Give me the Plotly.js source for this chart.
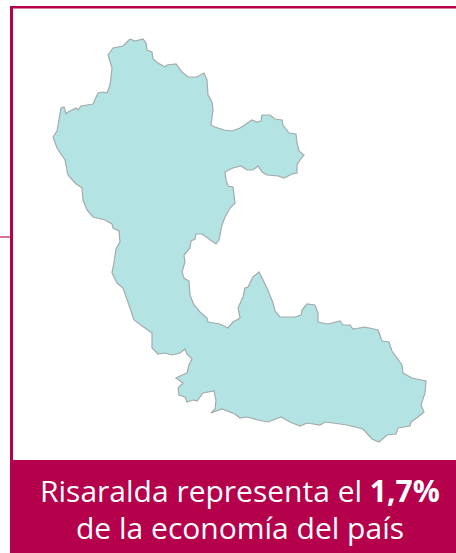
<!DOCTYPE html>
<html><head><meta charset="utf-8">
<script src="https://cdn.plot.ly/plotly-3.0.1.min.js"></script>
<style>html,body{margin:0;padding:0;background:#fff}#c{width:456px;height:553px}</style></head>
<body><div id="c"></div>
<script>
const regionName = "Risaralda";
const boundaryX = [130,135,143,146,147,152,153,158,165,167,176,182,188,197,204,207,208,212,213,211,215,220,224,232,240,246,252,257,261,262,266,270,275,282,283,289,296,297,299,304,300,297,297,292,284,278,267,262,258,253,247,241,233,225,226,228,233,234,235,230,225,222,219,216,208,202,196,195,191,190,184,185,182,184,189,190,194,200,207,208,220,228,233,240,238,243,245,248,253,259,267,273,275,280,295,301,302,307,315,318,318,328,340,343,350,353,365,378,382,389,392,397,402,403,412,426,425,421,424,418,411,410,398,396,387,379,372,363,347,333,325,320,307,300,290,281,275,268,258,247,240,235,222,211,215,216,214,203,197,193,187,185,179,178,183,180,176,182,187,189,192,187,185,180,172,165,158,152,152,145,134,130,126,123,117,112,114,116,120,119,113,112,105,93,87,83,82,75,68,65,57,53,57,59,61,64,66,68,76,78,81,93,98,103,107,110,112,108,113,123,130];
const boundaryY = [39,41,39,43,50,52,59,63,67,65,64,72,77,77,73,80,95,102,110,125,127,129,130,131,128,124,120,122,121,115,115,115,119,120,125,133,134,143,151,155,160,165,173,174,178,176,175,172,166,170,170,166,168,172,180,186,187,197,203,208,217,225,240,244,238,234,234,239,241,248,255,262,272,278,281,295,305,312,318,322,324,328,322,318,308,297,288,287,277,272,288,303,311,317,317,315,310,304,305,313,322,324,321,325,325,329,327,330,341,342,351,358,365,373,378,381,393,405,412,417,422,426,428,434,435,442,439,429,425,423,422,425,423,426,422,417,419,422,420,417,418,414,409,413,409,400,391,393,401,400,402,397,395,388,383,381,378,375,373,365,359,354,349,353,355,353,354,348,333,328,320,308,297,288,283,273,262,249,242,231,228,224,220,217,210,200,188,183,175,160,148,137,131,118,108,107,114,112,108,110,106,104,93,92,93,85,68,55,48,46,39];
const captionLines = ["Risaralda representa el <b>1,7%</b>", "de la economía del país"];

const crimson = "#b5004b";
Plotly.newPlot("c", [{
  type: "scatter", mode: "lines", x: boundaryX, y: boundaryY, fill: "toself",
  fillcolor: "#b3e3e3", line: {color: "#a3abab", width: 1.2}, hoverinfo: "skip", name: regionName
}], {
  width: 456, height: 553, margin: {l:0,r:0,t:0,b:0}, showlegend: false,
  paper_bgcolor: "#fff", plot_bgcolor: "#fff",
  xaxis: {range:[0,456], visible:false, fixedrange:true},
  yaxis: {range:[553,0], visible:false, fixedrange:true},
  shapes: [
    {type:"rect", xref:"x", yref:"y", x0:10, x1:456, y0:460, y1:553, fillcolor:crimson, line:{width:0}, layer:"below"},
    {type:"rect", xref:"x", yref:"y", x0:10, x1:13, y0:6, y1:460, fillcolor:crimson, line:{width:0}, layer:"below"},
    {type:"rect", xref:"x", yref:"y", x0:10, x1:456, y0:6, y1:8.5, fillcolor:crimson, line:{width:0}, layer:"below"},
    {type:"rect", xref:"x", yref:"y", x0:0, x1:10, y0:236, y1:238, fillcolor:"#d9729b", line:{width:0}, layer:"below"}
  ],
  annotations: [
    {xref:"x", yref:"y", x:240, y:490, text:captionLines[0], showarrow:false, font:{family:"Open Sans", size:30, color:"#fff"}},
    {xref:"x", yref:"y", x:240, y:527, text:captionLines[1], showarrow:false, font:{family:"Open Sans", size:30, color:"#fff"}}
  ]
}, {displayModeBar:false, staticPlot:true});
</script></body></html>
